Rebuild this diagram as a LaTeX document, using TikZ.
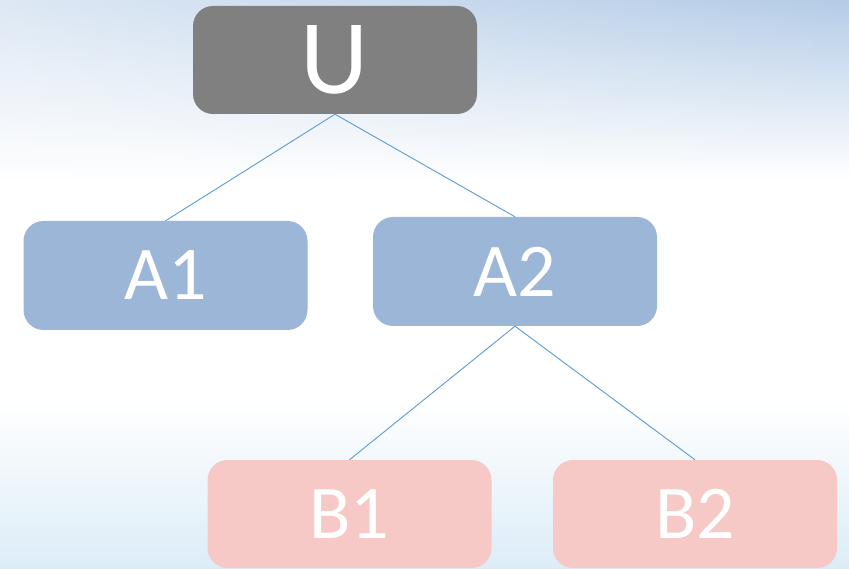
\documentclass[tikz,border=0pt]{standalone}
\usepackage{fontspec}
\setmainfont{Carlito}
\usetikzlibrary{fadings}
\definecolor{ugray}{HTML}{808080}
\definecolor{ablue}{HTML}{9CB6D8}
\definecolor{bpink}{HTML}{F6C9C6}
\definecolor{linkblue}{HTML}{5B9BD5}
\definecolor{bgtop}{HTML}{B4CCE7}
\definecolor{bgbot}{HTML}{DCECF7}
\tikzfading[name=fadeleft, left color=transparent!45, right color=transparent!100]
\tikzset{
  box/.style={rectangle, rounded corners=20pt, minimum width=284pt, minimum height=108pt, inner sep=0pt, text=white},
  ubox/.style={box, fill=ugray, font=\fontsize{106}{106}\selectfont},
  abox/.style={box, fill=ablue, minimum height=109pt, font=\fontsize{76}{76}\selectfont},
  bbox/.style={box, fill=bpink, font=\fontsize{76}{76}\selectfont},
  link/.style={draw=linkblue, line width=0.9pt}
}
\begin{document}
\begin{tikzpicture}[x=1pt,y=1pt]
\useasboundingbox (0,0) rectangle (849,-569);
\shade[top color=bgtop, bottom color=white] (0,0) rectangle (849,-180);
\fill[white, path fading=fadeleft] (0,0) rectangle (849,-180);
\fill[white] (0,-180) rectangle (849,-400);
\shade[top color=white, bottom color=bgbot] (0,-400) rectangle (849,-569);
\node[ubox] (U) at (335,-60) {U};
\node[abox] (A1) at (165.5,-275.5) {A1};
\node[abox] (A2) at (515,-271.5) {A2};
\node[bbox] (B1) at (349.5,-514) {B1};
\node[bbox] (B2) at (695,-514) {B2};
\draw[link] (U.south) -- (A1.north);
\draw[link] (U.south) -- (A2.north);
\draw[link] (A2.south) -- (B1.north);
\draw[link] (A2.south) -- (B2.north);
\end{tikzpicture}
\end{document}
